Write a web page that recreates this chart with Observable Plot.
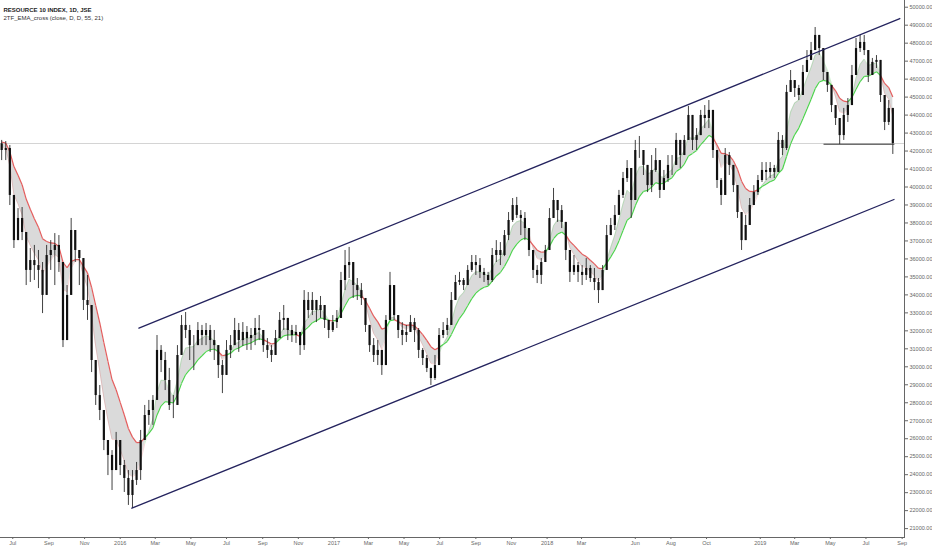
<!DOCTYPE html>
<html>
<head>
<meta charset="utf-8">
<script src="https://cdn.jsdelivr.net/npm/d3@7"></script>
<script src="https://cdn.jsdelivr.net/npm/@observablehq/plot@0.6"></script>
<style>
  html, body { margin: 0; padding: 0; background: #fff; }
  #chart svg { display: block; }
</style>
</head>
<body>
<div id="chart"></div>
<script>
// ---- Data (weekly candles) ----
const titleText = "RESOURCE 10 INDEX, 1D, JSE";
const subtitleText = "2TF_EMA_cross (close, D, D, 55, 21)";
const firstWeek = "2015-06-12";
const firstOpen = 42400;

const closes = [
42030,42140,39530,37020,38250,37470,35360,35910,35630,35360,
33970,36190,36470,36750,35800,31460,33970,37580,36470,36020,
33690,33410,30350,28400,27570,25900,25070,24230,25900,24510,
23790,22840,23680,24230,25900,27290,27570,28130,30910,30350,
29240,27850,27850,30630,32300,32020,31180,31180,32020,31740,
32020,31460,31180,30070,29520,30910,31180,32020,31460,31910,
31570,31740,32130,32020,31180,30910,30630,31570,32580,32690,
32020,31740,31910,31180,33690,33130,33690,33130,33410,32580,
32020,32460,32690,34800,35630,35800,34520,34240,33800,32300,
31180,30630,30910,30070,32580,34520,32850,32020,31740,31910,
32460,32020,30910,30460,29910,29350,30070,31740,32020,32300,
33690,34690,34800,34520,35360,35800,35630,35250,35080,34800,
36190,36470,36190,37300,38140,38970,38420,38250,37690,36470,
35360,35080,35800,36470,38250,39250,38690,38030,36470,35250,
35630,35250,35080,35470,34910,34690,34240,35360,37300,37860,
38420,39530,40470,41030,39250,42030,42030,41200,40080,40920,
41470,39810,40470,41200,41200,42590,41750,42590,43980,42590,
42860,43980,43810,44260,42030,40360,39530,41750,41200,40080,
38580,37020,37860,38970,39690,40360,40920,40810,41030,40810,
42590,42140,45260,45920,45480,45090,46370,47040,47590,48430,
47700,46370,45650,44530,43810,42860,43980,44530,46200,47700,
48040,47590,46200,46930,47040,45090,43590,44370,42420
];
const highs = [
42590,42530,42310,38970,38800,38860,36750,36580,36750,36470,
35800,36750,37020,37410,37300,34800,34520,38250,37140,36470,
35800,35080,32020,29520,28960,27120,25900,25340,26350,25620,
24790,24230,24230,24680,26460,27850,28130,28400,31740,31180,
30800,29910,28400,31180,32850,33020,32300,31740,32460,32300,
32410,32300,32020,30630,30350,31460,31740,32690,32410,32460,
32240,32130,32690,32850,31850,31570,31180,32020,33020,33410,
32690,32300,32300,31740,34240,34130,34130,33690,33910,33410,
32580,32850,33130,35250,36470,36640,35360,34910,34630,33410,
32300,31570,31460,30910,32850,35250,34520,32690,32460,32300,
32850,32690,32130,31020,30630,29910,30630,32130,32460,32690,
34130,35080,35250,34910,35630,36190,36190,36020,35470,35250,
36580,37020,36910,37580,38580,39360,39420,38690,38580,37140,
36360,35630,36020,36750,38800,39920,39250,38970,37860,36190,
36190,35800,35630,36020,35630,35470,34910,35630,37860,38250,
38970,39810,40810,41470,39810,42590,42810,41750,40920,41750,
42140,40640,40920,41750,41750,42980,42310,42860,44480,43420,
43250,44260,44530,44810,43420,41590,40470,42140,41920,41200,
40080,38420,38420,39360,40080,40640,41360,41360,41360,41200,
43030,42860,45650,46480,45920,45650,46760,47590,48040,48870,
48430,47310,46370,45370,44530,43700,44370,44920,46760,48260,
48430,48430,47310,47150,47310,46760,44920,44810,44260
];
const lows = [
41470,41470,38970,36580,37300,37020,34520,34690,34800,34350,
32960,34240,35360,34520,35250,31070,32020,35910,35800,34520,
33130,32580,29680,27850,27010,25340,23950,23120,25070,23950,
23010,22290,22120,23400,23680,25900,26740,26740,28400,29680,
28680,27570,27120,28130,31180,31570,30350,29790,31350,31180,
31180,30800,30350,29350,28510,30070,30460,31350,30800,31130,
30910,30910,31180,31460,30800,30460,30240,31020,31740,32020,
31460,31350,31300,30630,30910,32690,32850,32460,32690,32130,
31570,31910,32130,33410,34240,34910,33800,33690,33410,31910,
30800,30240,30070,29520,31180,33690,32580,31570,31180,31350,
32020,31350,30460,30070,29680,28960,29240,31180,31570,31740,
32580,34240,34520,34240,34690,35250,35080,34910,34690,34520,
34690,35800,35630,36130,37020,38030,38250,37300,37020,36130,
34910,34630,34580,35800,37470,38420,38030,37690,35910,34690,
35080,34690,34520,34800,34690,34240,33520,34240,36470,37300,
37580,38420,39360,40250,38250,39250,41590,40640,39690,39690,
40810,39360,39810,40250,40640,41470,41030,41750,42590,42030,
42030,43030,43250,43250,41590,39920,38970,39530,40640,39690,
38250,36470,37020,38030,38970,39530,40250,40360,40470,40470,
42030,41750,42030,45370,44980,44810,45650,46590,47040,47700,
47310,45920,45260,44140,43420,42360,42590,43590,44810,46480,
47480,47310,45810,46200,46590,44700,43140,43420,41810
];

// EMA settings of the indicator (55 / 21 daily bars ~ 11 / 4.2 weekly bars)
const slowPeriodWeeks = 11;
const fastPeriodWeeks = 4.2;
const slowSeed = 42600;
const fastSeed = 42300;

const lastPrice = 42420;
const supportDates = ["2019-04-20", "2019-08-18"];
const supportPrices = [42380, 42380];
const upperDates = ["2016-02-02", "2019-08-28"];
const upperPrices = [32150, 49370];
const lowerDates = ["2016-01-21", "2019-08-18"];
const lowerPrices = [22135, 39305];

const yTicks = [21000,22000,23000,24000,25000,26000,27000,28000,29000,30000,
  31000,32000,33000,34000,35000,36000,37000,38000,39000,40000,
  41000,42000,43000,44000,45000,46000,47000,48000,49000,50000];
const xTickDates = ["2015-07-01","2015-09-01","2015-11-01","2016-01-01","2016-03-01","2016-05-01",
  "2016-07-01","2016-09-01","2016-11-01","2017-01-01","2017-03-01","2017-05-01","2017-07-01",
  "2017-09-01","2017-11-01","2018-01-01","2018-03-01","2018-06-01","2018-08-01","2018-10-01",
  "2019-01-01","2019-03-01","2019-05-01","2019-07-01","2019-09-01"];

// ---- Build tables ----
const start = new Date(firstWeek);
const aS = 2 / (slowPeriodWeeks + 1), aF = 2 / (fastPeriodWeeks + 1);
let s = slowSeed, f = fastSeed;
const bars = closes.map((c, i) => {
  const open = i === 0 ? firstOpen : closes[i - 1];
  s = s + aS * (c - s);
  f = f + aF * (c - f);
  return {
    date: d3.utcDay.offset(start, 7 * i),
    open, close: c,
    high: Math.max(highs[i], open, c),
    low: Math.min(lows[i], open, c),
    slow: s, fast: f
  };
});
const segs = bars.slice(1).map((b, i) => ({
  x1: bars[i].date, y1: bars[i].slow, x2: b.date, y2: b.slow,
  fx1: bars[i].date, fy1: bars[i].fast, fy2: b.fast,
  up: b.fast >= b.slow
}));
const line2 = (dates, prices) => dates.map((d, i) => ({date: new Date(d), price: prices[i]}));

const GREEN = "#4fd14f", RED = "#e35d5d", NAVY = "#24235e";

const chart = Plot.plot({
  width: 932,
  height: 550,
  marginLeft: 0,
  marginRight: 28,
  marginTop: 0,
  marginBottom: 13,
  style: {fontFamily: "'Liberation Sans', Arial, sans-serif", fontSize: "5.5px", color: "#666", background: "#fff"},
  x: {
    type: "utc",
    domain: [new Date("2015-06-10"), new Date("2019-09-05")],
    ticks: xTickDates.map(d => new Date(d)),
    tickFormat: d => d.getUTCMonth() === 0 ? String(d.getUTCFullYear()) : d3.utcFormat("%b")(d),
    tickSize: 2,
    tickPadding: 2,
    line: true,
    label: null
  },
  y: {
    domain: [20506, 50373],
    axis: "right",
    ticks: yTicks,
    tickFormat: d => d.toFixed(2),
    tickSize: 3,
    tickPadding: 2,
    line: true,
    label: null
  },
  marks: [
    Plot.ruleY([lastPrice], {stroke: "#d4d4d4", strokeWidth: 1}),
    Plot.areaY(bars, {x: "date", y1: "fast", y2: "slow", fill: "#d3d3d3", fillOpacity: 0.85, curve: "linear"}),
    Plot.link(segs, {x1: "fx1", y1: "fy1", x2: "x2", y2: "fy2", stroke: d => d.up ? GREEN : RED, strokeOpacity: 0.35, strokeWidth: 0.7}),
    Plot.link(segs, {x1: "x1", y1: "y1", x2: "x2", y2: "y2", stroke: d => d.up ? GREEN : RED, strokeWidth: 1.2}),
    Plot.ruleX(bars, {x: "date", y1: "low", y2: "high", stroke: "#111", strokeWidth: 0.8}),
    Plot.ruleX(bars, {x: "date", y1: "open", y2: "close", stroke: "#111", strokeWidth: 2.2}),
    Plot.line(line2(upperDates, upperPrices), {x: "date", y: "price", stroke: NAVY, strokeWidth: 1.3}),
    Plot.line(line2(lowerDates, lowerPrices), {x: "date", y: "price", stroke: NAVY, strokeWidth: 1.3}),
    Plot.line(line2(supportDates, supportPrices), {x: "date", y: "price", stroke: "#333", strokeWidth: 1}),
    Plot.text([titleText], {text: d => d, frameAnchor: "top-left", dx: 3, dy: 7, textAnchor: "start", fontWeight: "bold", fontSize: 6, fill: "#222"}),
    Plot.text([subtitleText], {text: d => d, frameAnchor: "top-left", dx: 3, dy: 15, textAnchor: "start", fontSize: 6, fill: "#333"})
  ]
});
document.getElementById("chart").appendChild(chart);
</script>
</body>
</html>
